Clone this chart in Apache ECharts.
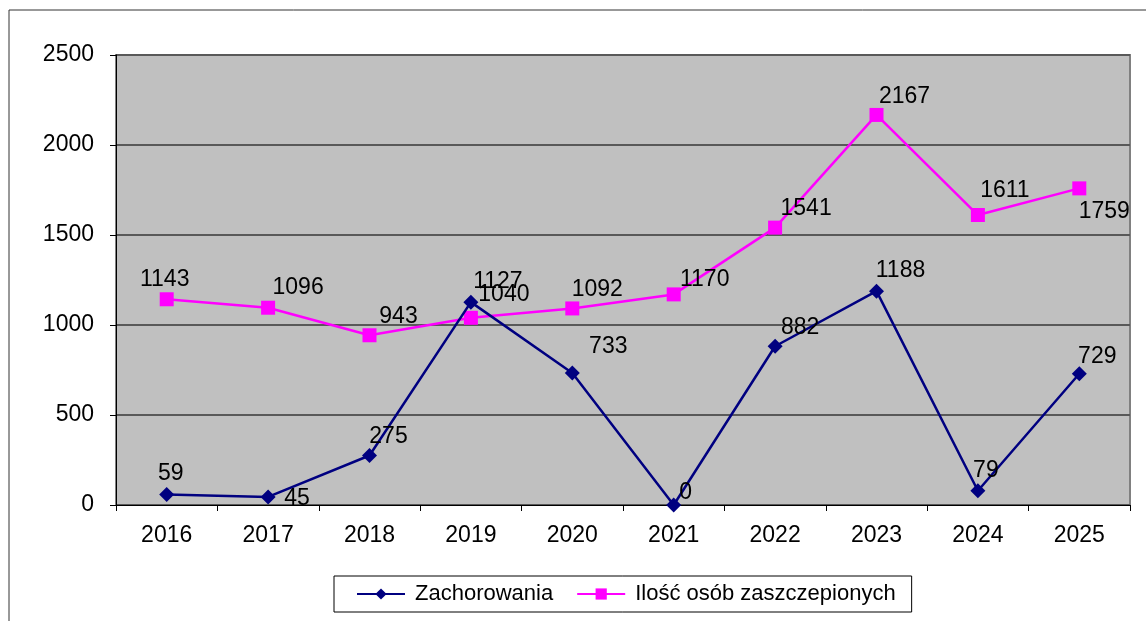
<!DOCTYPE html>
<html>
<head>
<meta charset="utf-8">
<script src="https://cdn.jsdelivr.net/npm/echarts@6/dist/echarts.min.js"></script>
<style>
  html, body { margin: 0; padding: 0; background: #fff; }
  #chart { width: 1146px; height: 621px; }
</style>
</head>
<body>
<div id="chart"></div>
<script>
// dane
var years = ['2016', '2017', '2018', '2019', '2020', '2021', '2022', '2023', '2024', '2025'];
var zachorowania = [59, 45, 275, 1127, 733, 0, 882, 1188, 79, 729];
var zaszczepieni = [1143, 1096, 943, 1040, 1092, 1170, 1541, 2167, 1611, 1759];
var yTicks = [0, 500, 1000, 1500, 2000, 2500];

// przesunięcia etykiet (tylko wygląd)
var navyOffsets = [[4, -21], [29, 2], [19, -19], [27, -20], [36, -26], [12, -12], [25, -19], [24, -21], [8, -20], [18, -17]];
var pinkOffsets = [[-2, -20], [30, -20], [29, -19], [33, -23], [25, -19], [31, -15], [31, -19], [28, -18], [27, -24], [25, 23]];

function withLabels(values, offsets) {
  return values.map(function (v, i) {
    return { value: v, label: { offset: offsets[i] } };
  });
}

var chart = echarts.init(document.getElementById('chart'));
var font = 'Liberation Sans, Arial, sans-serif';

chart.setOption({
  animation: false,
  textStyle: { fontFamily: font },
  graphic: [{
    type: 'rect',
    shape: { x: 9, y: 10, width: 1150, height: 620 },
    style: { fill: 'none', stroke: '#333', lineWidth: 1 },
    silent: true
  }],
  grid: {
    left: 116, top: 55, right: 16, bottom: 116,
    show: true,
    backgroundColor: '#C0C0C0',
    borderColor: '#808080',
    borderWidth: 2
  },
  legend: {
    bottom: 9,
    left: 334,
    padding: [7, 16, 7, 22],
    itemGap: 23,
    itemWidth: 48,
    itemHeight: 14,
    borderColor: '#000',
    borderWidth: 1,
    textStyle: { fontSize: 22, color: '#000', fontFamily: font, padding: [0, 0, 0, 5] }
  },
  xAxis: {
    type: 'category',
    data: years,
    boundaryGap: true,
    axisLine: { show: true, lineStyle: { color: '#000', width: 1 } },
    axisTick: { show: true, length: 6, lineStyle: { color: '#000' } },
    axisLabel: { fontSize: 23, color: '#000', margin: 19, fontFamily: font },
    splitLine: { show: false }
  },
  yAxis: {
    type: 'value',
    min: yTicks[0],
    max: yTicks[yTicks.length - 1],
    interval: 500,
    axisLine: { show: true, lineStyle: { color: '#000', width: 1 } },
    axisTick: { show: true, length: 6, lineStyle: { color: '#000' } },
    axisLabel: { fontSize: 23, color: '#000', margin: 22, fontFamily: font, formatter: function (v) { return String(v); } },
    splitLine: { show: true, lineStyle: { color: '#595959', width: 2 } }
  },
  series: [
    {
      name: 'Zachorowania',
      type: 'line',
      data: withLabels(zachorowania, navyOffsets),
      symbol: 'diamond',
      symbolSize: 15,
      lineStyle: { color: '#000080', width: 2.5 },
      itemStyle: { color: '#000080' },
      label: { show: true, position: 'inside', fontSize: 23, color: '#000', fontFamily: font },
      z: 3
    },
    {
      name: 'Ilość osób zaszczepionych',
      type: 'line',
      data: withLabels(zaszczepieni, pinkOffsets),
      symbol: 'rect',
      symbolSize: 14,
      lineStyle: { color: '#FF00FF', width: 2.5 },
      itemStyle: { color: '#FF00FF' },
      label: { show: true, position: 'inside', fontSize: 23, color: '#000', fontFamily: font },
      z: 2
    }
  ]
});
</script>
</body>
</html>
